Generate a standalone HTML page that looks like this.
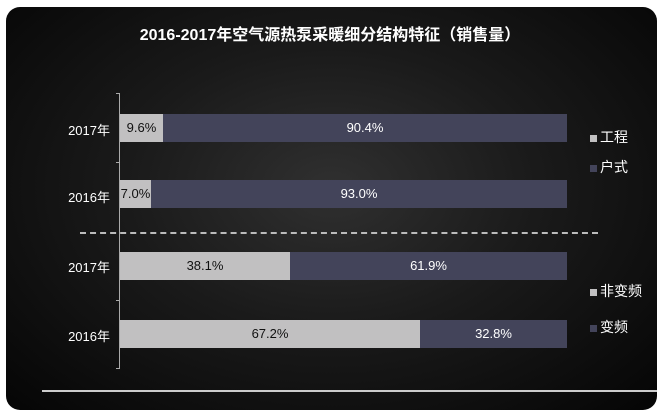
<!DOCTYPE html>
<html><head><meta charset="utf-8"><style>
body{margin:0;width:660px;height:417px;background:#fff;overflow:hidden;font-family:"Liberation Sans","Noto Sans CJK SC",sans-serif}
.p{position:absolute;left:6px;top:7px;width:651px;height:403px;border-radius:14px;background:radial-gradient(ellipse at 50% 45%,#303030 0%,#1a1a1a 45%,#050505 100%)}
.t{position:absolute;top:21px;left:0;width:660px;text-align:center;color:#fff;font-weight:bold;font-size:16px}
.b{position:absolute;height:28px;font-size:13px;color:#111;text-align:center;line-height:28px}
.l{background:#c1c0c1}.d{background:#43445a;color:#fff}
.y{position:absolute;color:#fff;font-size:13px;left:55px;width:55px;text-align:right}
.lg{position:absolute;color:#fff;font-size:14px;left:590px}
.lg i{display:inline-block;width:7px;height:7px;margin-right:3px}
.tk{position:absolute;left:116px;width:4px;height:1px;background:#aaa}
</style></head><body>
<div class="p"></div>
<div class="t">2016-2017年空气源热泵采暖细分结构特征（销售量）</div>
<div style="position:absolute;left:119px;top:93px;width:1px;height:275px;background:#aaa"></div>
<div class="tk" style="top:93px"></div><div class="tk" style="top:162px"></div><div class="tk" style="top:300px"></div><div class="tk" style="top:368px"></div>
<div style="position:absolute;left:80px;top:232px;width:518px;border-top:2px dashed #bbb"></div>
<div style="position:absolute;left:42px;top:390px;width:615px;height:2px;background:#ccc"></div>
<div class="y" style="top:120px">2017年</div>
<div class="y" style="top:187px">2016年</div>
<div class="y" style="top:257px">2017年</div>
<div class="y" style="top:326px">2016年</div>
<div class="b l" style="left:120px;top:114px;width:43px">9.6%</div>
<div class="b d" style="left:163px;top:114px;width:404px">90.4%</div>
<div class="b l" style="left:120px;top:180px;width:31px">7.0%</div>
<div class="b d" style="left:151px;top:180px;width:416px">93.0%</div>
<div class="b l" style="left:120px;top:252px;width:170px">38.1%</div>
<div class="b d" style="left:290px;top:252px;width:277px">61.9%</div>
<div class="b l" style="left:120px;top:320px;width:300px">67.2%</div>
<div class="b d" style="left:420px;top:320px;width:147px">32.8%</div>
<div class="lg" style="top:127px"><i style="background:#c1c0c1"></i>工程</div>
<div class="lg" style="top:157px"><i style="background:#43445a"></i>户式</div>
<div class="lg" style="top:281px"><i style="background:#c1c0c1"></i>非变频</div>
<div class="lg" style="top:317px"><i style="background:#43445a"></i>变频</div>
</body></html>
